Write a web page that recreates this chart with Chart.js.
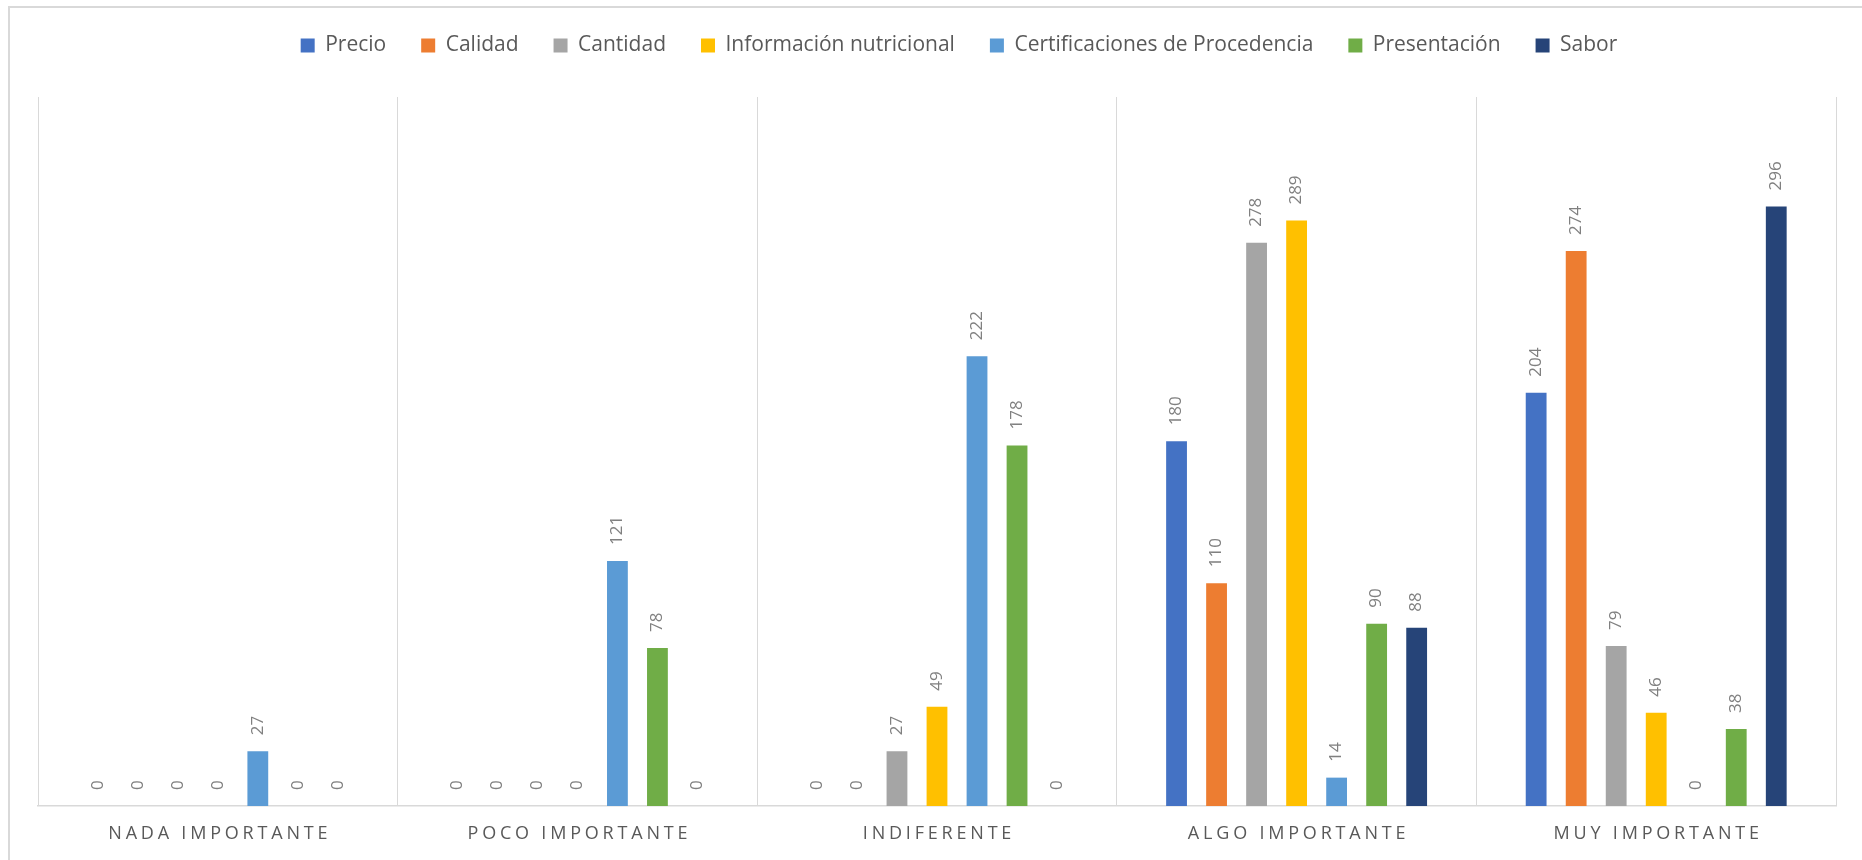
<!DOCTYPE html>
<html lang="es">
<head>
<meta charset="utf-8">
<title>Importancia de atributos</title>
<script src="https://cdn.jsdelivr.net/npm/chart.js@4.4.1/dist/chart.umd.min.js"></script>
<style>
  html, body { margin: 0; padding: 0; background: #fff; overflow: hidden; }
  .frame {
    position: absolute; left: 8px; top: 6px;
    width: 1900px; height: 900px;
    border: 2px solid #d9d9d9;
  }
  .chart-container {
    position: absolute; left: 0; top: 0;
    width: 1862px; height: 860px;
  }
</style>
</head>
<body>
<div class="frame"></div>
<div class="chart-container">
  <canvas id="chart"></canvas>
</div>
<script>
const categories = ['NADA IMPORTANTE', 'POCO IMPORTANTE', 'INDIFERENTE', 'ALGO IMPORTANTE', 'MUY IMPORTANTE'];

const precio = [0, 0, 0, 180, 204];
const calidad = [0, 0, 0, 110, 274];
const cantidad = [0, 0, 27, 278, 79];
const infoNutricional = [0, 0, 49, 289, 46];
const certificaciones = [27, 121, 222, 14, 0];
const presentacion = [0, 78, 178, 90, 38];
const sabor = [0, 0, 0, 88, 296];

const seriesNames = ['Precio', 'Calidad', 'Cantidad', 'Información nutricional', 'Certificaciones de Procedencia', 'Presentación', 'Sabor'];
const seriesValues = [precio, calidad, cantidad, infoNutricional, certificaciones, presentacion, sabor];
const seriesColors = ['#4472C4', '#ED7D31', '#A5A5A5', '#FFC000', '#5B9BD5', '#70AD47', '#264478'];

const FONT = '"Open Sans", "Noto Sans", sans-serif';

// extra space under the legend, and nudge it right (the frame runs off the page)
const legendTweak = {
  id: 'legendTweak',
  beforeInit(chart) {
    const legend = chart.legend;
    const fit = legend.fit;
    const draw = legend.draw;
    legend.fit = function () {
      fit.call(this);
      this.height += 31;
    };
    legend.draw = function () {
      this.ctx.save();
      this.ctx.translate(22, 0);
      draw.call(this);
      this.ctx.restore();
    };
  }
};

// rotated value labels above every bar (zeros included)
const barLabels = {
  id: 'barLabels',
  afterDatasetsDraw(chart) {
    const ctx = chart.ctx;
    ctx.save();
    ctx.font = '17px ' + FONT;
    ctx.fillStyle = '#808080';
    ctx.textAlign = 'left';
    ctx.textBaseline = 'middle';
    chart.data.datasets.forEach((ds, i) => {
      const meta = chart.getDatasetMeta(i);
      meta.data.forEach((bar, j) => {
        ctx.save();
        ctx.translate(bar.x, bar.y - 16);
        ctx.rotate(-Math.PI / 2);
        ctx.fillText(String(ds.data[j]), 0, 0);
        ctx.restore();
      });
    });
    ctx.restore();
  }
};

// category names under the axis, letter-spaced
const categoryLabels = {
  id: 'categoryLabels',
  afterDraw(chart) {
    const ctx = chart.ctx;
    const xScale = chart.scales.x;
    ctx.save();
    ctx.font = '18px ' + FONT;
    ctx.fillStyle = '#595959';
    ctx.textAlign = 'center';
    ctx.textBaseline = 'middle';
    ctx.letterSpacing = '3.8px';
    chart.data.labels.forEach((label, i) => {
      ctx.fillText(label, xScale.getPixelForValue(i) + 2, chart.chartArea.bottom + 28);
    });
    ctx.restore();
  }
};

const ctx = document.getElementById('chart').getContext('2d');
new Chart(ctx, {
  type: 'bar',
  data: {
    labels: categories,
    datasets: seriesNames.map((name, i) => ({
      label: name,
      data: seriesValues[i],
      backgroundColor: seriesColors[i],
      borderWidth: 0,
      categoryPercentage: 0.779,
      barPercentage: 0.52
    }))
  },
  options: {
    responsive: true,
    maintainAspectRatio: false,
    animation: false,
    events: [],
    layout: {
      padding: { left: 38, right: 26, top: 0, bottom: 54 }
    },
    plugins: {
      legend: {
        position: 'top',
        labels: {
          boxWidth: 14,
          boxHeight: 14,
          padding: 35,
          color: '#595959',
          font: { family: FONT, size: 21 }
        }
      },
      tooltip: { enabled: false }
    },
    scales: {
      x: {
        ticks: { display: false },
        grid: { color: '#d9d9d9', lineWidth: 1, drawTicks: false },
        border: { color: '#d9d9d9', width: 1.5 }
      },
      y: {
        display: false,
        min: 0,
        max: 350
      }
    }
  },
  plugins: [legendTweak, barLabels, categoryLabels]
});
</script>
</body>
</html>
